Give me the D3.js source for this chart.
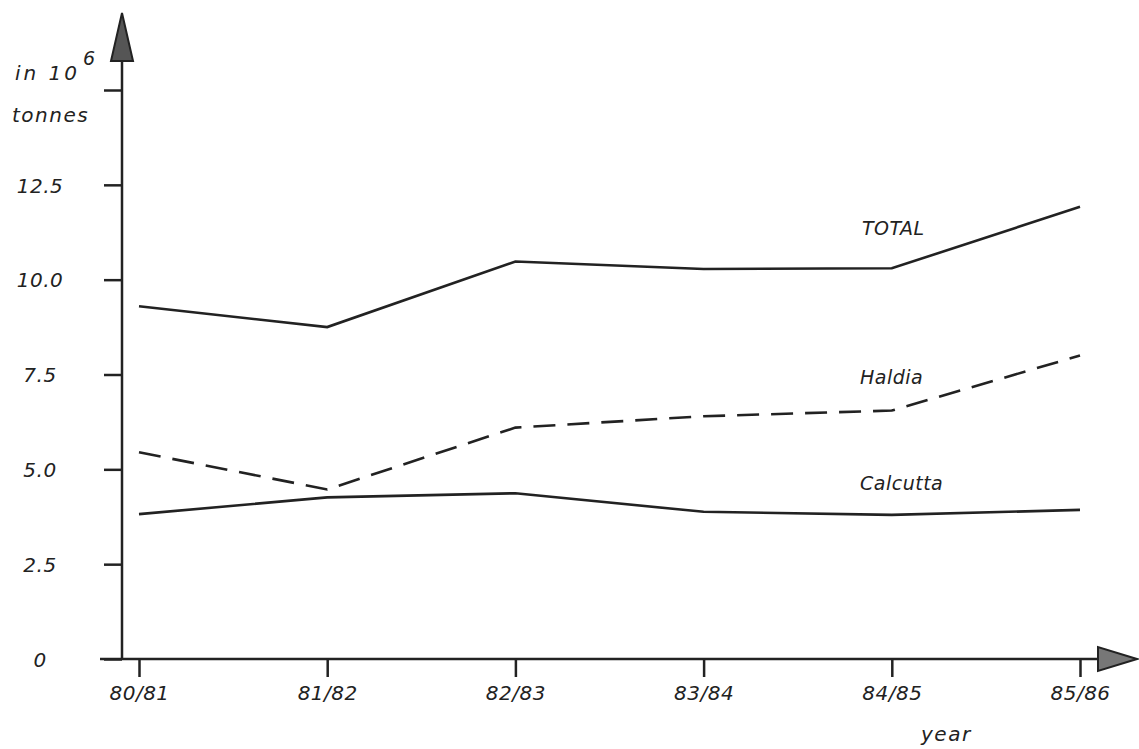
<!DOCTYPE html>
<html><head><meta charset="utf-8">
<script src="https://cdn.jsdelivr.net/npm/d3@7"></script>
<style>body{margin:0;background:#fff}text{font-family:"DejaVu Sans",sans-serif;font-style:oblique;fill:#222;letter-spacing:0.5px}</style>
</head><body><svg id="c" width="1139" height="749"></svg>
<script>
const years = ["80/81","81/82","82/83","83/84","84/85","85/86"];
const total = [9.3, 8.75, 10.48, 10.28, 10.3, 11.92];
const haldia = [5.45, 4.47, 6.1, 6.4, 6.55, 8.0];
const calcutta = [3.82, 4.26, 4.37, 3.88, 3.8, 3.93];
const yTickVals = [0, 2.5, 5, 7.5, 10, 12.5, 15];
const yTickLabels = ["0","2.5","5.0","7.5","10.0","12.5",""];
const seriesNames = ["TOTAL","Haldia","Calcutta"];

const svg = d3.select("#c");
const ink = "#222";
const x = d3.scalePoint().domain(years).range([139, 1080]);
const y = d3.scaleLinear().domain([0, 15]).range([659, 90]);
const x0 = 122;

svg.append("line").attr("x1", x0).attr("x2", x0).attr("y1", y(0)).attr("y2", 40).attr("stroke", ink).attr("stroke-width", 2.5);
svg.append("line").attr("x1", 100).attr("x2", 1110).attr("y1", y(0)).attr("y2", y(0)).attr("stroke", ink).attr("stroke-width", 2.5);
svg.append("path").attr("d", `M${x0},13 L${x0+11},61 L${x0-11},61 Z`).attr("fill", "#555").attr("stroke", ink).attr("stroke-width", 2);
svg.append("path").attr("d", `M1137,${y(0)} L1098,${y(0)-12} L1098,${y(0)+12} Z`).attr("fill", "#777").attr("stroke", ink).attr("stroke-width", 2);

const yAxis = d3.axisLeft(y).tickValues(yTickVals).tickSize(18).tickFormat((d,i)=>yTickLabels[i]);
const gy = svg.append("g").attr("transform", `translate(${x0},0)`).call(yAxis);
gy.select(".domain").remove();
gy.selectAll(".tick line").attr("stroke", ink).attr("stroke-width", 2.5);
gy.selectAll(".tick text").attr("x", -82).attr("text-anchor", "middle").attr("font-size", 20).attr("fill", ink).attr("dy", "0.36em");

const xAxis = d3.axisBottom(x).tickSize(18).tickPadding(9);
const gx = svg.append("g").attr("transform", `translate(0,${y(0)})`).call(xAxis);
gx.select(".domain").remove();
gx.selectAll(".tick line").attr("stroke", ink).attr("stroke-width", 2.5);
gx.selectAll(".tick text").attr("font-size", 20).attr("fill", ink);

const t1 = svg.append("text").attr("x", 15).attr("y", 80).attr("font-size", 20).style("letter-spacing","3px");
t1.append("tspan").text("in 10");
t1.append("tspan").attr("dy", -15).attr("dx", 3).attr("font-size", 19).text("6");
svg.append("text").attr("x", 12).attr("y", 122).attr("font-size", 20).style("letter-spacing","1.5px").text("tonnes");
svg.append("text").attr("x", 921).attr("y", 741).attr("font-size", 20).style("letter-spacing","1.5px").text("year");

const line = d3.line().x((d,i)=>x(years[i])).y(d=>y(d));
const data = [total, haldia, calcutta];
const dashes = [null, "22,12", null];
data.forEach((s,k)=>{
  svg.append("path").datum(s).attr("d", line).attr("fill","none").attr("stroke", ink)
    .attr("stroke-width", 2.6).attr("stroke-dasharray", dashes[k]);
});
const labelPos = [[862, 235], [860, 384], [860, 490]];
seriesNames.forEach((n,k)=>{
  svg.append("text").attr("x", labelPos[k][0]).attr("y", labelPos[k][1]).attr("font-size", 19).text(n);
});
</script></body></html>
